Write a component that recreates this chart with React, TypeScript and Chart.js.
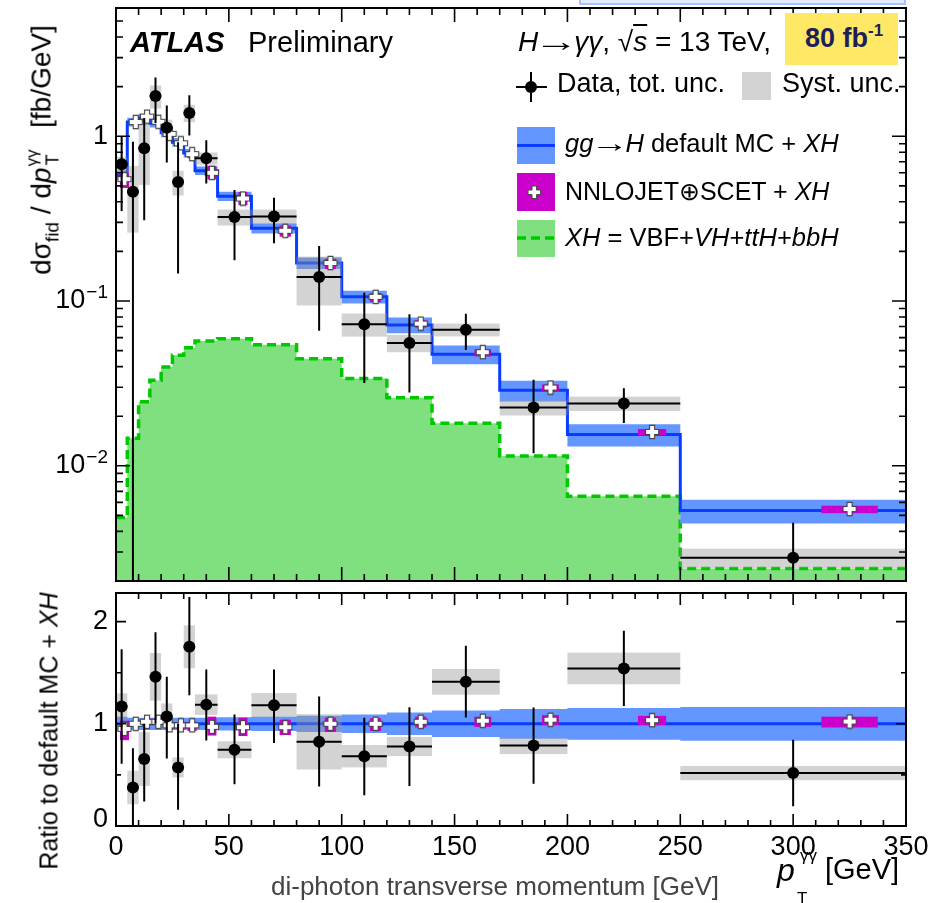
import React, { useEffect, useRef } from "react";
import { Chart, registerables } from "chart.js";

Chart.register(...registerables);

const FONT = '"Liberation Sans", Arial, Helvetica, sans-serif';
Chart.defaults.font.family = FONT;

// ---- data ----
const binEdges = [0, 5, 10, 15, 20, 25, 30, 35, 45, 60, 80, 100, 120, 140, 170, 200, 250, 350];
const dataValues = [0.676, 0.46, 0.846, 1.752, 1.124, 0.527, 1.385, 0.734, 0.323, 0.326, 0.14, 0.0724, 0.0556, 0.067, 0.0226, 0.0239, 0.00277];
const dataErrUp = [0.324, 0.467, 0.444, 0.522, 0.41, 0.393, 0.385, 0.212, 0.149, 0.097, 0.0755, 0.04, 0.0274, 0.0168, 0.0107, 0.0057, 0.00175];
const dataErrDn = [0.324, 0.47, 0.537, 0.55, 0.43, 0.38, 0.374, 0.217, 0.146, 0.102, 0.0741, 0.0406, 0.0277, 0.0166, 0.0107, 0.0057, 0.00173];
const dataSystUnc = [0.074, 0.2, 0.34, 0.28, 0.135, 0.09, 0.166, 0.062, 0.036, 0.033, 0.046, 0.0116, 0.0067, 0.006, 0.0024, 0.0024, 0.00037];
const mcValues = [0.578, 1.22, 1.29, 1.2, 1.05, 0.92, 0.79, 0.618, 0.433, 0.276, 0.17, 0.106, 0.0715, 0.0475, 0.0287, 0.0155, 0.00535];
const mcRelUnc = [0.07, 0.06, 0.06, 0.06, 0.06, 0.06, 0.06, 0.06, 0.065, 0.07, 0.08, 0.09, 0.11, 0.13, 0.145, 0.155, 0.165];
const nnloRatio = [0.95, 1.0, 1.02, 1.02, 0.985, 0.985, 0.985, 0.97, 0.967, 0.967, 1.0, 1.0, 1.02, 1.03, 1.04, 1.036, 1.022];
const nnloRatioLo = [0.84, 0.98, 0.99, 0.99, 0.95, 0.95, 0.93, 0.885, 0.88, 0.89, 0.92, 0.93, 0.964, 0.97, 0.99, 0.987, 0.964];
const nnloRatioHi = [1.03, 1.02, 1.05, 1.05, 1.02, 1.01, 1.02, 1.07, 1.06, 1.04, 1.06, 1.055, 1.07, 1.07, 1.085, 1.078, 1.07];
const xhValues = [0.00485, 0.0147, 0.0245, 0.0331, 0.0398, 0.0469, 0.0521, 0.0572, 0.0591, 0.0543, 0.0447, 0.0339, 0.0259, 0.0181, 0.01148, 0.00653, 0.00238];
const xTickLabels = [0, 50, 100, 150, 200, 250, 300, 350];
const topYTicks = [1, 0.1, 0.01];
const ratioYTicks = [0, 1, 2];

// ---- derived ----
const binCenters = binEdges.slice(0, -1).map((e, i) => (e + binEdges[i + 1]) / 2);
const nnloPositions = binEdges.slice(0, -1).map((e, i) => e + 0.75 * (binEdges[i + 1] - e));

function stepPoints(vals: number[]) {
  const pts = vals.map((v, i) => ({ x: binEdges[i], y: v }));
  pts.push({ x: binEdges[binEdges.length - 1], y: vals[vals.length - 1] });
  return pts;
}

function makeCross() {
  const c = document.createElement("canvas");
  c.width = 16;
  c.height = 16;
  const g = c.getContext("2d")!;
  const m = 8, a = 2.5, L = 6.6;
  g.beginPath();
  g.moveTo(m - a, m - L); g.lineTo(m + a, m - L); g.lineTo(m + a, m - a); g.lineTo(m + L, m - a);
  g.lineTo(m + L, m + a); g.lineTo(m + a, m + a); g.lineTo(m + a, m + L); g.lineTo(m - a, m + L);
  g.lineTo(m - a, m + a); g.lineTo(m - L, m + a); g.lineTo(m - L, m - a); g.lineTo(m - a, m - a);
  g.closePath();
  g.fillStyle = "#fff";
  g.fill();
  g.strokeStyle = "#444";
  g.lineWidth = 1.1;
  g.stroke();
  return c;
}

function makeHepPlugin(cfg: any) {
  return {
    id: "hep" + cfg.kind,
    beforeDatasetDraw(chart: any, args: any) {
      const label = chart.data.datasets[args.index].label;
      if (label !== "nnlo" && label !== "data") return;
      const { ctx, chartArea: a, scales } = chart;
      const xs = scales.x, ys = scales.y;
      const py = (v: number) => (cfg.kind === "ratio" || v > 0 ? ys.getPixelForValue(v) : a.bottom + 60);
      ctx.save();
      ctx.beginPath();
      ctx.rect(a.left, a.top, a.right - a.left, a.bottom - a.top);
      ctx.clip();
      if (label === "nnlo") {
        ctx.fillStyle = "rgba(150,150,150,0.42)";
        cfg.values.forEach((v: number, i: number) => {
          const x0 = xs.getPixelForValue(binEdges[i]);
          const x1 = xs.getPixelForValue(binEdges[i + 1]);
          const y0 = py(v + cfg.syst[i]);
          const y1 = py(v - cfg.syst[i]);
          ctx.fillRect(x0, y0, x1 - x0, y1 - y0);
        });
        ctx.fillStyle = "#cc00cc";
        cfg.nnloLo.forEach((lo: number, i: number) => {
          const x0 = xs.getPixelForValue(binEdges[i]);
          const x1 = xs.getPixelForValue(binEdges[i + 1]);
          const xc = xs.getPixelForValue(nnloPositions[i]);
          const hw = Math.max(0.125 * (x1 - x0), 4.5);
          const y0 = py(cfg.nnloHi[i]);
          const y1 = py(lo);
          ctx.fillRect(xc - hw, y0, 2 * hw, y1 - y0);
        });
      } else {
        ctx.strokeStyle = "#000";
        ctx.lineWidth = 2;
        ctx.beginPath();
        cfg.values.forEach((v: number, i: number) => {
          const xc = xs.getPixelForValue(binCenters[i]);
          const x0 = xs.getPixelForValue(binEdges[i]);
          const x1 = xs.getPixelForValue(binEdges[i + 1]);
          const yc = py(v);
          ctx.moveTo(xc, py(v + cfg.errUp[i]));
          ctx.lineTo(xc, py(v - cfg.errDn[i]));
          ctx.moveTo(x0, yc);
          ctx.lineTo(x1, yc);
        });
        ctx.stroke();
      }
      ctx.restore();
    },
    afterDraw(chart: any) {
      const { ctx, chartArea: a, scales } = chart;
      const xs = scales.x, ys = scales.y;
      ctx.save();
      ctx.strokeStyle = "#000";
      ctx.lineWidth = 1.6;
      ctx.beginPath();
      const xMaj = cfg.kind === "top" ? 14 : 12;
      const xMin = cfg.kind === "top" ? 7 : 6;
      for (let v = xs.min; v <= xs.max + 1e-9; v += 10) {
        const px = xs.getPixelForValue(v);
        const L = v % 50 === 0 ? xMaj : xMin;
        ctx.moveTo(px, a.bottom); ctx.lineTo(px, a.bottom - L);
        ctx.moveTo(px, a.top); ctx.lineTo(px, a.top + L);
      }
      const yTicks: { v: number; major: boolean }[] = [];
      if (cfg.kind === "top") {
        for (let d = -3; d <= 0; d++) {
          for (let m = 1; m <= 9; m++) {
            const v = m * Math.pow(10, d);
            if (v >= ys.min && v <= ys.max) yTicks.push({ v, major: m === 1 });
          }
        }
      } else {
        for (let v = 0; v <= ys.max + 1e-9; v += 0.5) yTicks.push({ v, major: Math.abs(v - Math.round(v)) < 1e-9 });
      }
      const yMaj = cfg.kind === "top" ? 14 : 10;
      const yMin = cfg.kind === "top" ? 7 : 5;
      yTicks.forEach((t) => {
        const p = ys.getPixelForValue(t.v);
        const L = t.major ? yMaj : yMin;
        ctx.moveTo(a.left, p); ctx.lineTo(a.left + L, p);
        ctx.moveTo(a.right, p); ctx.lineTo(a.right - L, p);
      });
      ctx.stroke();
      ctx.lineWidth = 2;
      ctx.strokeRect(a.left, a.top, a.right - a.left, a.bottom - a.top);

      // y tick labels
      ctx.fillStyle = "#000";
      ctx.textBaseline = "middle";
      ctx.textAlign = "right";
      const xr = a.left - 8;
      if (cfg.kind === "top") {
        topYTicks.forEach((v) => {
          const p = ys.getPixelForValue(v);
          const exp = Math.round(Math.log10(v));
          if (exp === 0) {
            ctx.font = `27px ${FONT}`;
            ctx.fillText("1", xr, p);
          } else {
            ctx.font = `19px ${FONT}`;
            const sup = "\u2212" + String(-exp);
            const sw = ctx.measureText(sup).width;
            ctx.fillText(sup, xr, p - 8);
            ctx.font = `27px ${FONT}`;
            ctx.fillText("10", xr - sw - 1, p);
          }
        });
      } else {
        ctx.font = `27px ${FONT}`;
        ratioYTicks.forEach((v) => {
          const p = ys.getPixelForValue(v);
          ctx.fillText(String(v), xr, v === 0 ? p - 6 : p);
        });
      }
      ctx.restore();
    },
  };
}

function topConfig(cross: HTMLCanvasElement) {
  const mcUp = mcValues.map((v, i) => v * (1 + mcRelUnc[i]));
  const mcDn = mcValues.map((v, i) => v * (1 - mcRelUnc[i]));
  const nnloVals = mcValues.map((v, i) => v * nnloRatio[i]);
  const hep = makeHepPlugin({
    kind: "top",
    values: dataValues,
    errUp: dataErrUp,
    errDn: dataErrDn,
    syst: dataSystUnc,
    nnloLo: mcValues.map((v, i) => v * nnloRatioLo[i]),
    nnloHi: mcValues.map((v, i) => v * nnloRatioHi[i]),
  });
  return {
    type: "line",
    data: {
      datasets: [
        { label: "xh", data: stepPoints(xhValues), stepped: "before", borderColor: "#00c800", borderWidth: 3.5, borderDash: [9, 5], backgroundColor: "#80e080", fill: "start", pointRadius: 0, order: 10 },
        { label: "bandUp", data: stepPoints(mcUp), stepped: "before", borderWidth: 0, borderColor: "rgba(0,0,0,0)", pointRadius: 0, fill: false, order: 9 },
        { label: "bandDn", data: stepPoints(mcDn), stepped: "before", borderWidth: 0, borderColor: "rgba(0,0,0,0)", pointRadius: 0, fill: "-1", backgroundColor: "rgb(100,150,255)", order: 9 },
        { label: "mc", data: stepPoints(mcValues), stepped: "before", borderColor: "#0a3cff", borderWidth: 3, pointRadius: 0, fill: false, order: 8 },
        { label: "nnlo", data: nnloPositions.map((x, i) => ({ x, y: nnloVals[i] })), showLine: false, pointStyle: cross, pointRadius: 7, order: 2 },
        { label: "data", data: binCenters.map((x, i) => ({ x, y: dataValues[i] })), showLine: false, pointStyle: "circle", pointRadius: 6, pointBackgroundColor: "#000", pointBorderColor: "#000", pointBorderWidth: 0, order: 1 },
      ],
    },
    options: {
      responsive: false,
      animation: false,
      events: [],
      layout: { padding: { left: 0, right: 40, top: 7, bottom: 0 } },
      plugins: { legend: { display: false }, tooltip: { enabled: false } },
      scales: {
        x: { type: "linear", min: 0, max: 350, grid: { display: false, drawTicks: false }, border: { display: false }, ticks: { display: false }, afterFit: (s: any) => { s.height = 9; } },
        y: { type: "logarithmic", min: 0.002, max: 6, grid: { display: false, drawTicks: false }, border: { display: false }, ticks: { display: false }, afterFit: (s: any) => { s.width = 116; } },
      },
    },
    plugins: [hep],
  };
}

function ratioConfig(cross: HTMLCanvasElement) {
  const rData = dataValues.map((v, i) => v / mcValues[i]);
  const hep = makeHepPlugin({
    kind: "ratio",
    values: rData,
    errUp: dataErrUp.map((v, i) => v / mcValues[i]),
    errDn: dataErrDn.map((v, i) => v / mcValues[i]),
    syst: dataSystUnc.map((v, i) => v / mcValues[i]),
    nnloLo: nnloRatioLo,
    nnloHi: nnloRatioHi,
  });
  return {
    type: "line",
    data: {
      datasets: [
        { label: "bandUp", data: stepPoints(mcRelUnc.map((u) => 1 + u)), stepped: "before", borderWidth: 0, borderColor: "rgba(0,0,0,0)", pointRadius: 0, fill: false, order: 9 },
        { label: "bandDn", data: stepPoints(mcRelUnc.map((u) => 1 - u)), stepped: "before", borderWidth: 0, borderColor: "rgba(0,0,0,0)", pointRadius: 0, fill: "-1", backgroundColor: "rgb(100,150,255)", order: 9 },
        { label: "mc", data: stepPoints(mcValues.map((v) => v / v)), stepped: "before", borderColor: "#0a3cff", borderWidth: 3, pointRadius: 0, fill: false, order: 8 },
        { label: "nnlo", data: nnloPositions.map((x, i) => ({ x, y: nnloRatio[i] })), showLine: false, pointStyle: cross, pointRadius: 7, order: 2 },
        { label: "data", data: binCenters.map((x, i) => ({ x, y: rData[i] })), showLine: false, pointStyle: "circle", pointRadius: 6, pointBackgroundColor: "#000", pointBorderColor: "#000", pointBorderWidth: 0, order: 1 },
      ],
    },
    options: {
      responsive: false,
      animation: false,
      events: [],
      layout: { padding: { left: 0, right: 40, top: 7, bottom: 0 } },
      plugins: { legend: { display: false }, tooltip: { enabled: false } },
      scales: {
        x: {
          type: "linear", min: 0, max: 350,
          grid: { display: false, drawTicks: false }, border: { display: false },
          ticks: { display: true, padding: 5, color: "#000", font: { size: 27 }, autoSkip: false, maxRotation: 0 },
          afterBuildTicks: (s: any) => { s.ticks = xTickLabels.map((v) => ({ value: v })); },
          afterFit: (s: any) => { s.height = 77; },
        },
        y: {
          type: "linear", min: 0, max: 2.28,
          grid: { display: false, drawTicks: false }, border: { display: false },
          ticks: { display: false },
          afterFit: (s: any) => { s.width = 116; },
        },
      },
    },
    plugins: [hep],
  };
}

function Txt({ x, y, size, children, style }: any) {
  return (
    <div style={{ position: "absolute", left: x, top: y - 0.8465 * size, fontSize: size, lineHeight: `${size}px`, whiteSpace: "nowrap", fontFamily: FONT, color: "#000", ...style }}>
      {children}
    </div>
  );
}

function Arrow({ w, s }: any) {
  return (
    <span style={{ display: "inline-block", width: w, textAlign: "center" }}>
      <span style={{ display: "inline-block", transform: `scaleX(${s})` }}>{"\u2192"}</span>
    </span>
  );
}

export default function App() {
  const topRef = useRef<HTMLCanvasElement>(null);
  const ratioRef = useRef<HTMLCanvasElement>(null);
  useEffect(() => {
    const cross = makeCross();
    const top = new Chart(topRef.current as any, topConfig(cross) as any);
    const ratio = new Chart(ratioRef.current as any, ratioConfig(cross) as any);
    return () => {
      top.destroy();
      ratio.destroy();
    };
  }, []);

  const sup = (s: string, size: number, dy: number) => (
    <span style={{ fontSize: size, position: "relative", top: dy, lineHeight: 0 }}>{s}</span>
  );

  return (
    <div style={{ position: "absolute", left: 0, top: 0, width: 946, height: 903, overflow: "hidden", background: "#fff", fontFamily: FONT }}>
      <canvas ref={topRef} width={946} height={590} style={{ position: "absolute", left: 0, top: 0 }} />
      <canvas ref={ratioRef} width={946} height={318} style={{ position: "absolute", left: 0, top: 585 }} />

      {/* cropped box at the top edge */}
      <div style={{ position: "absolute", left: 579, top: -4, width: 323, height: 5, background: "#e3ecff", border: "2px solid #a7c1ff" }} />

      {/* ATLAS label */}
      <Txt x={130} y={53} size={29} style={{ fontWeight: "bold", fontStyle: "italic" }}>ATLAS</Txt>
      <Txt x={248} y={53} size={29}>Preliminary</Txt>

      <Txt x={518} y={52} size={28}>
        <i>H</i><Arrow w={36} s={1.6} /><i>{"\u03b3\u03b3"}</i>, {"\u221a"}<span style={{ textDecoration: "overline" }}><i>s</i></span> = 13 TeV,
      </Txt>
      <div style={{ position: "absolute", left: 785, top: 13, width: 113, height: 52, background: "#ffe866" }} />
      <Txt x={805} y={48} size={27} style={{ fontWeight: "bold", color: "#1e1e5a" }}>
        80 fb{sup("-1", 17, -11)}
      </Txt>

      {/* legend symbols */}
      <svg width={946} height={300} style={{ position: "absolute", left: 0, top: 0 }}>
        <line x1={516} y1={87} x2={547} y2={87} stroke="#000" strokeWidth={2} />
        <line x1={531} y1={72} x2={531} y2={102} stroke="#000" strokeWidth={2} />
        <circle cx={531} cy={87} r={6} fill="#000" />
        <rect x={742} y={72} width={29} height={28} fill="#d3d3d3" />
        <rect x={517} y={127} width={38} height={37} fill="rgb(100,150,255)" />
        <line x1={517} y1={145.5} x2={555} y2={145.5} stroke="#0a3cff" strokeWidth={3} />
        <rect x={517} y={173} width={38} height={38} fill="#cc00cc" />
        <path d="M532,186 h4.6 v4 h4 v4.6 h-4 v4 h-4.6 v-4 h-4 v-4.6 h4 z" fill="#fff" stroke="#444" strokeWidth={1} />
        <rect x={517} y={220} width={38} height={37} fill="#80e080" />
        <line x1={517} y1={238} x2={555} y2={238} stroke="#00c800" strokeWidth={3.5} strokeDasharray="9 5" />
      </svg>

      <Txt x={557} y={93} size={27}>Data, tot. unc.</Txt>
      <Txt x={782} y={93} size={27}>Syst. unc.</Txt>
      <Txt x={565} y={153} size={25.5}>
        <i>gg</i><Arrow w={32} s={1.5} /><i>H</i> default MC + <i>XH</i>
      </Txt>
      <Txt x={565} y={200} size={25}>
        NNLOJET{"\u2295"}SCET + <i>XH</i>
      </Txt>
      <Txt x={565} y={247} size={25.5}>
        <i>XH</i> = VBF+<i>VH</i>+<i>ttH</i>+<i>bbH</i>
      </Txt>

      {/* top y-axis title */}
      <div style={{ position: "absolute", left: 43, top: 150, transform: "translate(-50%,-50%) rotate(-90deg)", fontSize: 28, lineHeight: "28px", whiteSpace: "nowrap", fontFamily: FONT }}>
        d{"\u03c3"}<span style={{ fontSize: 19, position: "relative", top: 8 }}>fid</span>{" / d"}<i>p</i>
        <span style={{ display: "inline-block", position: "relative", width: 24, height: 1 }}>
          <span style={{ position: "absolute", left: 2, top: -6, fontSize: 18, lineHeight: "18px" }}>T</span>
          <span style={{ position: "absolute", left: 1, top: -26, fontSize: 17, lineHeight: "17px" }}>{"\u03b3\u03b3"}</span>
        </span>
        {"\u00a0\u00a0[fb/GeV]"}
      </div>

      {/* ratio y-axis title */}
      <div style={{ position: "absolute", left: 49, top: 731, transform: "translate(-50%,-50%) rotate(-90deg)", fontSize: 25, lineHeight: "25px", whiteSpace: "nowrap", fontFamily: FONT }}>
        Ratio to default MC + <i>XH</i>
      </div>

      {/* x-axis titles */}
      <Txt x={271} y={895} size={26} style={{ color: "#444" }}>di-photon transverse momentum [GeV]</Txt>
      <Txt x={777} y={881} size={32} style={{ fontStyle: "italic" }}>p</Txt>
      <Txt x={797} y={904} size={17}>T</Txt>
      <Txt x={800} y={861} size={17}>{"\u03b3\u03b3"}</Txt>
      <Txt x={825} y={880} size={29}>[GeV]</Txt>
    </div>
  );
}
